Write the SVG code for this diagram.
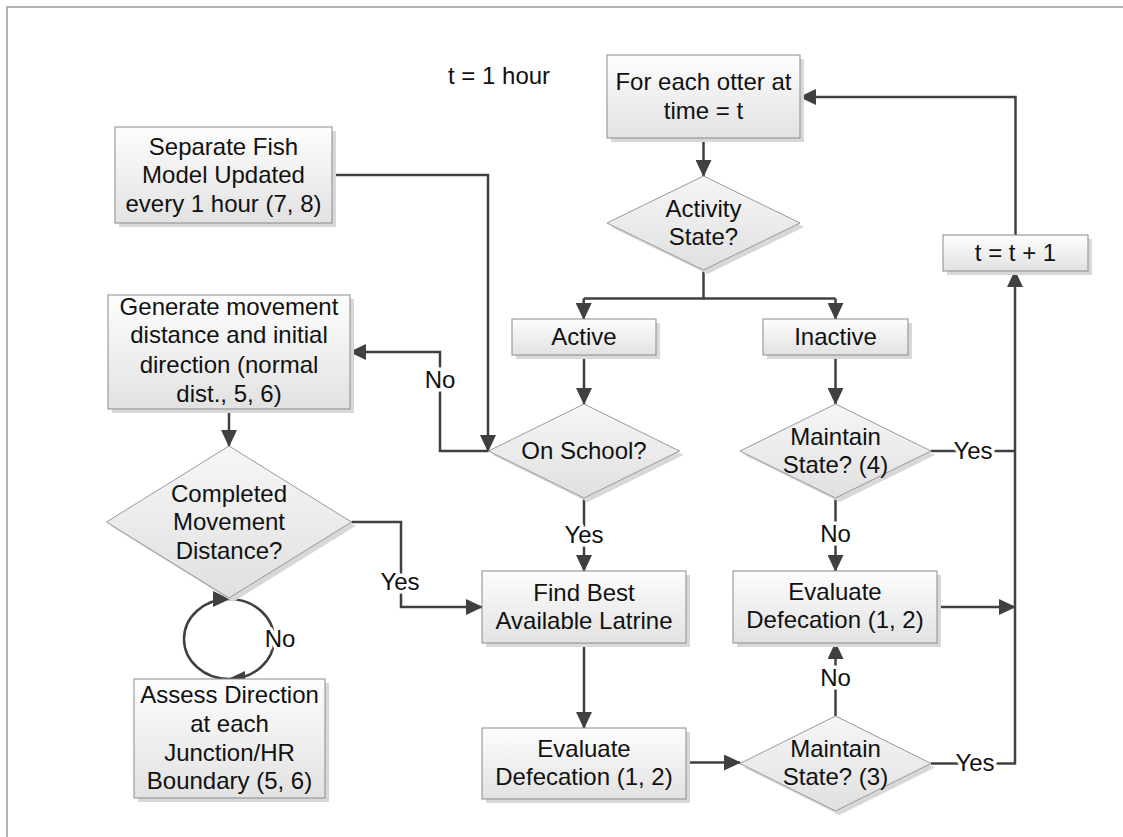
<svg xmlns="http://www.w3.org/2000/svg" width="1123" height="837" viewBox="0 0 1123 837">
<defs>
<linearGradient id="gBox" x1="0" y1="0" x2="0" y2="1"><stop offset="0" stop-color="#fdfdfd"/><stop offset="1" stop-color="#e2e2e2"/></linearGradient>
<linearGradient id="gDia" x1="0" y1="0" x2="0" y2="1"><stop offset="0" stop-color="#f6f6f6"/><stop offset="1" stop-color="#e0e0e0"/></linearGradient>
<marker id="arr" markerUnits="userSpaceOnUse" markerWidth="18" markerHeight="16" refX="16" refY="8" orient="auto"><path d="M0,0 L17,8 L0,16 z" fill="#404040"/></marker>
<style>
.box{fill:url(#gBox);stroke:#8a8a8a;stroke-width:1}
.dia{fill:url(#gDia);stroke:#999999;stroke-width:1}
.sh{fill:#d8d8d8;stroke:none}
.t{font-family:"Liberation Sans",Arial,sans-serif;font-size:24px;fill:#111111;text-anchor:middle}
.lbl{font-family:"Liberation Sans",Arial,sans-serif;font-size:24px;fill:#111111;text-anchor:middle;stroke:#ffffff;stroke-width:7px;paint-order:stroke;stroke-linejoin:round}
.c{fill:none;stroke:#404040;stroke-width:2.5}
.ca{fill:none;stroke:#404040;stroke-width:2.5;marker-end:url(#arr)}
</style>
</defs>
<rect width="1123" height="837" fill="#ffffff"/>
<path d="M7,837 V7 H1123" fill="none" stroke="#b4b4b4" stroke-width="2"/>

<g id="connectors">
<path class="ca" d="M703.5,138 V176"/>
<path class="c" d="M703.5,270 V298.5 H583.7"/>
<path class="ca" d="M583.7,298.5 V319"/>
<path class="c" d="M703.5,298.5 H835.5"/>
<path class="ca" d="M835.5,298.5 V319"/>
<path class="ca" d="M584,355 V404"/>
<path class="ca" d="M835.5,355 V404"/>
<path class="ca" d="M332,175 H488 V451"/>
<path class="ca" d="M488.5,451 H440 V352 H350"/>
<path class="ca" d="M229,409 V446"/>
<path class="ca" d="M351.5,522 H401 V607 H482"/>
<path class="ca" d="M584,498 V571"/>
<path class="ca" d="M584,643 V728"/>
<path class="ca" d="M686,762.5 H740"/>
<path class="ca" d="M835.5,716 V643"/>
<path class="ca" d="M835.5,498 V571"/>
<path class="c" d="M931,451 H1015"/>
<path class="ca" d="M931,763.5 H1015 V271"/>
<path class="ca" d="M937,607 H1015"/>
<path class="ca" d="M1015.5,235 V97 H800"/>
<path class="ca" d="M229,599 A45,40 0 0 1 229,679"/>
<path class="ca" d="M229,679 A45,40 0 0 1 229,599"/>
<text class="lbl" x="440" y="380" dy="0.35em">No</text>
<text class="lbl" x="400" y="582" dy="0.35em">Yes</text>
<text class="lbl" x="584" y="535" dy="0.35em">Yes</text>
<text class="lbl" x="835.5" y="534" dy="0.35em">No</text>
<text class="lbl" x="835.5" y="678" dy="0.35em">No</text>
<text class="lbl" x="973" y="451" dy="0.35em">Yes</text>
<text class="lbl" x="975" y="763" dy="0.35em">Yes</text>
<text class="lbl" x="280" y="639" dy="0.35em">No</text>
</g>

<text class="t" x="448" y="76" dy="0.35em" style="text-anchor:start">t = 1 hour</text>

<g id="forEach">
<rect class="sh" x="611" y="59" width="193" height="83"/>
<rect class="box" x="607" y="55" width="193" height="83"/>
<text class="t" x="703.5" y="82" dy="0.35em">For each otter at</text>
<text class="t" x="703.5" y="111" dy="0.35em">time = t</text>
</g>

<g id="activityState">
<polygon class="sh" points="707.5,180 804,227 707.5,274 611,227"/>
<polygon class="dia" points="703.5,176 800,223 703.5,270 607,223"/>
<text class="t" x="703.5" y="208.3" dy="0.35em">Activity</text>
<text class="t" x="703.5" y="236.7" dy="0.35em">State?</text>
</g>

<g id="separateFish">
<rect class="sh" x="119" y="131" width="217" height="96"/>
<rect class="box" x="115" y="127" width="217" height="96"/>
<text class="t" x="223.5" y="146.7" dy="0.35em">Separate Fish</text>
<text class="t" x="223.5" y="175" dy="0.35em">Model Updated</text>
<text class="t" x="223.5" y="203.3" dy="0.35em">every 1 hour (7, 8)</text>
</g>

<g id="tPlus">
<rect class="sh" x="947" y="239" width="145" height="36"/>
<rect class="box" x="943" y="235" width="145" height="36"/>
<text class="t" x="1015.5" y="253" dy="0.35em">t = t + 1</text>
</g>

<g id="active">
<rect class="sh" x="516" y="323" width="144" height="36"/>
<rect class="box" x="512" y="319" width="144" height="36"/>
<text class="t" x="584" y="337" dy="0.35em">Active</text>
</g>

<g id="inactive">
<rect class="sh" x="767" y="323" width="145" height="36"/>
<rect class="box" x="763" y="319" width="145" height="36"/>
<text class="t" x="835.5" y="337" dy="0.35em">Inactive</text>
</g>

<g id="generate">
<rect class="sh" x="112" y="299" width="242" height="114"/>
<rect class="box" x="108" y="295" width="242" height="114"/>
<text class="t" x="229" y="306.7" dy="0.35em">Generate movement</text>
<text class="t" x="229" y="335" dy="0.35em">distance and initial</text>
<text class="t" x="229" y="365" dy="0.35em">direction (normal</text>
<text class="t" x="229" y="393.3" dy="0.35em">dist., 5, 6)</text>
</g>

<g id="onSchool">
<polygon class="sh" points="588,408 683.5,455 588,502 492.5,455"/>
<polygon class="dia" points="584,404 679.5,451 584,498 488.5,451"/>
<text class="t" x="584" y="451" dy="0.35em">On School?</text>
</g>

<g id="maintain4">
<polygon class="sh" points="839.5,408 935,455 839.5,502 744,455"/>
<polygon class="dia" points="835.5,404 931,451 835.5,498 740,451"/>
<text class="t" x="835.5" y="436.7" dy="0.35em">Maintain</text>
<text class="t" x="835.5" y="464.3" dy="0.35em">State? (4)</text>
</g>

<g id="completed">
<polygon class="sh" points="233,450 355.5,526 233,602 110.5,526"/>
<polygon class="dia" points="229,446 351.5,522 229,598 106.5,522"/>
<text class="t" x="229" y="493.3" dy="0.35em">Completed</text>
<text class="t" x="229" y="521.7" dy="0.35em">Movement</text>
<text class="t" x="229" y="551" dy="0.35em">Distance?</text>
</g>

<g id="findBest">
<rect class="sh" x="486" y="575" width="204" height="72"/>
<rect class="box" x="482" y="571" width="204" height="72"/>
<text class="t" x="584" y="592.7" dy="0.35em">Find Best</text>
<text class="t" x="584" y="621" dy="0.35em">Available Latrine</text>
</g>

<g id="evaluateRight">
<rect class="sh" x="737" y="575" width="204" height="72"/>
<rect class="box" x="733" y="571" width="204" height="72"/>
<text class="t" x="835" y="591.7" dy="0.35em">Evaluate</text>
<text class="t" x="835" y="620" dy="0.35em">Defecation (1, 2)</text>
</g>

<g id="evaluateLeft">
<rect class="sh" x="486" y="732" width="204" height="71"/>
<rect class="box" x="482" y="728" width="204" height="71"/>
<text class="t" x="584" y="748.3" dy="0.35em">Evaluate</text>
<text class="t" x="584" y="776.7" dy="0.35em">Defecation (1, 2)</text>
</g>

<g id="maintain3">
<polygon class="sh" points="839.5,720 935,767.5 839.5,815 744,767.5"/>
<polygon class="dia" points="835.5,716 931,763.5 835.5,811 740,763.5"/>
<text class="t" x="835.5" y="748.3" dy="0.35em">Maintain</text>
<text class="t" x="835.5" y="776.7" dy="0.35em">State? (3)</text>
</g>

<g id="assess">
<rect class="sh" x="138" y="683" width="191" height="119"/>
<rect class="box" x="134" y="679" width="191" height="119"/>
<text class="t" x="229.5" y="695" dy="0.35em">Assess Direction</text>
<text class="t" x="229.5" y="723.3" dy="0.35em">at each</text>
<text class="t" x="229.5" y="752.3" dy="0.35em">Junction/HR</text>
<text class="t" x="229.5" y="780.7" dy="0.35em">Boundary (5, 6)</text>
</g>
</svg>
